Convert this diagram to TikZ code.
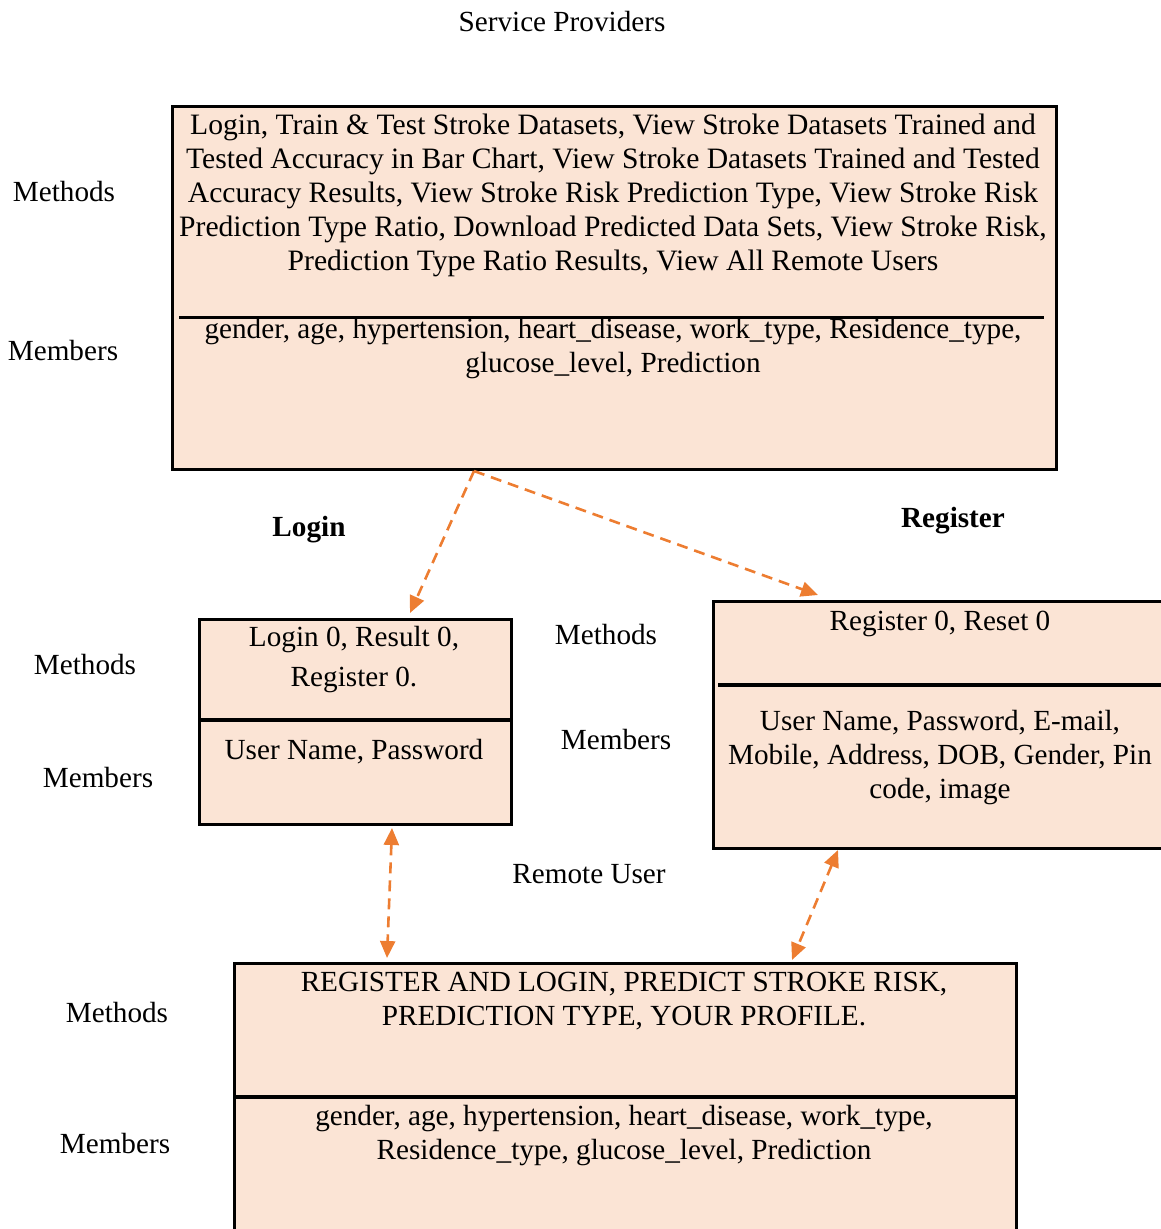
\documentclass[tikz,border=0pt]{standalone}
\usepackage{fontspec}
\setmainfont{Liberation Serif}
\usetikzlibrary{arrows.meta}
\definecolor{boxfill}{HTML}{FBE4D5}
\definecolor{arrowor}{HTML}{ED7D31}
\tikzset{
  umlbox/.style={draw=black, line width=2.6pt, fill=boxfill, anchor=north west, inner sep=0pt},
  txt/.style={font=\fontsize{29.2}{34}\selectfont, align=center, inner sep=0pt, yshift=-3pt},
  lbl/.style={font=\fontsize{29.2}{34}\selectfont, inner sep=0pt, yshift=-2pt},
  ttl/.style={font=\fontsize{29.2}{34}\selectfont\bfseries, inner sep=0pt, yshift=-3pt},
  divider/.style={line width=3pt, black},
  arr/.style={draw=arrowor, line width=2.6pt, dash pattern=on 11pt off 7pt, -{Triangle[length=17pt,width=15pt]}},
  darr/.style={draw=arrowor, line width=2.6pt, dash pattern=on 11pt off 7pt, {Triangle[length=17pt,width=15pt]}-{Triangle[length=17pt,width=15pt]}}
}
\begin{document}
\begin{tikzpicture}[x=1pt,y=-1pt]
\clip (0,0) rectangle (1161,1229);
\useasboundingbox (0,0) rectangle (1161,1229);

% title
\node[lbl] (title) at (562,20) {Service Providers};

% Service provider box
\node[umlbox, minimum width=884pt, minimum height=363pt] (sp) at (171,105) {};
\draw[divider] (179,317) -- (1044,317);
\node[txt, font=\fontsize{29.6}{33.8}\selectfont] (spm) at (613,192.5) {Login, Train \& Test Stroke Datasets, View Stroke Datasets Trained and\\Tested Accuracy in Bar Chart, View Stroke Datasets Trained and Tested\\Accuracy Results, View Stroke Risk Prediction Type, View Stroke Risk\\Prediction Type Ratio, Download Predicted Data Sets, View Stroke Risk,\\Prediction Type Ratio Results, View All Remote Users};
\node[txt, font=\fontsize{29.2}{33.5}\selectfont] (spa) at (613,345.5) {gender, age, hypertension, heart\_disease, work\_type, Residence\_type,\\glucose\_level, Prediction};
\node[lbl] (l1) at (64,190) {Methods};
\node[lbl] (l2) at (63,349) {Members};

% headings
\node[ttl] (hlogin) at (309,527) {Login};
\node[ttl] (hreg) at (953,518) {Register};

% Login box
\node[umlbox, minimum width=312pt, minimum height=205pt] (lg) at (198,618) {};
\draw[line width=4pt] (198,720) -- (510,720);
\node[txt, font=\fontsize{29.2}{40}\selectfont] (lgm) at (354,657) {Login 0, Result 0,\\Register 0.};
\node[txt] (lga) at (354,749) {User Name, Password};
\node[lbl] (l3) at (85,663) {Methods};
\node[lbl] (l4) at (98,776) {Members};

% Register box
\node[umlbox, minimum width=480pt, minimum height=247pt] (rg) at (712,600) {};
\draw[line width=4pt] (718,685) -- (1165,685);
\node[txt] (rgm) at (940,621) {Register 0, Reset 0};
\node[txt] (rga) at (940,755) {User Name, Password, E-mail,\\Mobile, Address, DOB, Gender, Pin\\code, image};
\node[lbl] (l5) at (606,633) {Methods};
\node[lbl] (l6) at (616,738) {Members};

% Remote user
\node[lbl] (hru) at (589,872) {Remote User};

% Remote user box
\node[umlbox, minimum width=782pt, minimum height=300pt] (ru) at (233,962) {};
\draw[line width=4pt] (233,1097) -- (1015,1097);
\node[txt] (rum) at (624,998) {REGISTER AND LOGIN, PREDICT STROKE RISK,\\PREDICTION TYPE, YOUR PROFILE.};
\node[txt] (rua) at (624,1133) {gender, age, hypertension, heart\_disease, work\_type,\\Residence\_type, glucose\_level, Prediction};
\node[lbl] (l7) at (117,1010) {Methods};
\node[lbl] (l8) at (115,1141) {Members};

% connectors
\coordinate (s0) at (474,471);
\coordinate (s1) at (410,613);
\coordinate (s2) at (818,595);
\coordinate (d1a) at (392,828);
\coordinate (d1b) at (387,958);
\coordinate (d2a) at (838,850);
\coordinate (d2b) at (792,960);
\draw[arr] (s0) -- (s1);
\draw[arr] (s0) -- (s2);
\draw[darr] (d1a) -- (d1b);
\draw[darr] (d2a) -- (d2b);
\end{tikzpicture}
\end{document}
